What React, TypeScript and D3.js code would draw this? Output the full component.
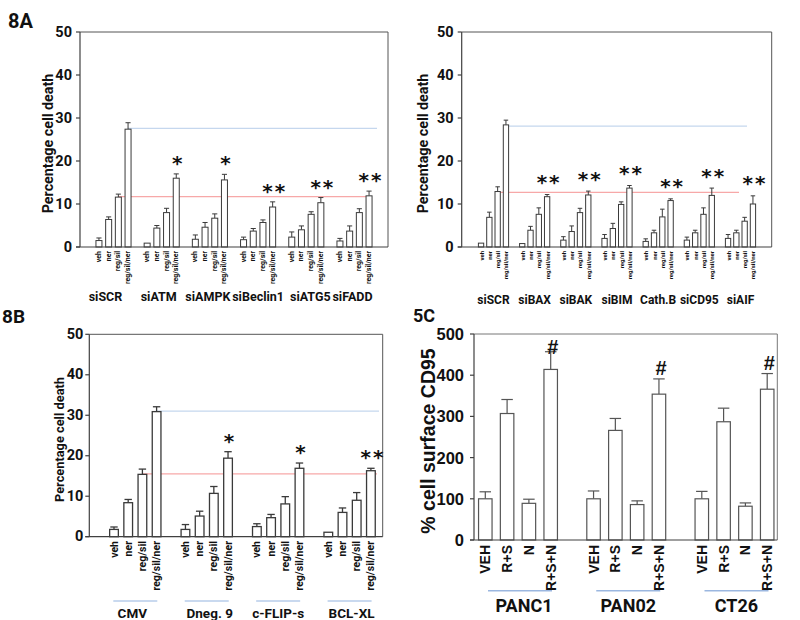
import React from "react";
import * as d3 from "d3";

// ---------- DATA ----------
const treat8 = ["veh", "ner", "reg/sil", "reg/sil/ner"];

const groupsA1 = ["siSCR", "siATM", "siAMPK", "siBeclin1", "siATG5", "siFADD"];
const meanA1 = [
  [1.5, 6.4, 11.6, 27.4],
  [0.9, 4.4, 8.0, 16.0],
  [1.8, 4.6, 6.7, 15.6],
  [1.7, 3.7, 5.7, 9.3],
  [2.3, 4.0, 7.6, 10.3],
  [1.4, 3.7, 8.0, 11.9],
];
const errA1 = [
  [0.6, 0.6, 0.7, 1.5],
  [0, 0.6, 1.0, 1.0],
  [1.0, 1.1, 1.0, 1.3],
  [0.6, 0.6, 0.6, 1.2],
  [1.2, 0.9, 0.6, 1.2],
  [0.6, 1.2, 0.9, 1.1],
];
const sigA1 = ["", "*", "*", "**", "**", "**"];
const refA1 = [27.6, 11.7];

const groupsA2 = ["siSCR", "siBAX", "siBAK", "siBIM", "Cath.B", "siCD95", "siAIF"];
const meanA2 = [
  [0.9, 6.9, 12.9, 28.4],
  [0.8, 3.9, 7.6, 11.7],
  [1.6, 3.6, 8.0, 12.1],
  [2.0, 4.3, 9.9, 13.7],
  [1.3, 3.3, 7.0, 10.8],
  [1.6, 3.3, 7.6, 12.0],
  [2.0, 3.3, 6.0, 10.0],
];
const errA2 = [
  [0, 1.2, 1.1, 1.1],
  [0, 0.9, 1.5, 0.5],
  [0.8, 1.3, 1.0, 0.9],
  [0.9, 1.2, 0.6, 0.6],
  [0.6, 0.6, 1.8, 0.4],
  [0.7, 0.6, 1.5, 1.7],
  [0.9, 0.6, 0.9, 1.9],
];
const sigA2 = ["", "**", "**", "**", "**", "**", "**"];
const refA2 = [28.1, 12.7];

const groupsB = ["CMV", "Dneg. 9", "c-FLIP-s", "BCL-XL"];
const meanB = [
  [1.8, 8.4, 15.4, 30.9],
  [1.8, 5.1, 10.7, 19.4],
  [2.5, 4.7, 8.1, 16.9],
  [1.1, 6.0, 9.0, 16.3],
];
const errB = [
  [0.6, 0.8, 1.3, 1.2],
  [1.2, 1.2, 1.7, 1.6],
  [0.7, 0.8, 1.8, 1.3],
  [0, 1.1, 1.9, 0.6],
];
const sigB = ["", "*", "*", "**"];
const refB = [31.0, 15.5];

const groupsC = ["PANC1", "PAN02", "CT26"];
const treatC = ["VEH", "R+S", "N", "R+S+N"];
const meanC = [
  [100, 307, 89, 414],
  [100, 266, 86, 354],
  [100, 287, 82, 366],
];
const errC = [
  [17, 34, 10, 43],
  [19, 29, 9, 37],
  [18, 33, 8, 38],
];
const sigC = ["#", "#", "#"];

const yTicks8 = [0, 10, 20, 30, 40, 50];
const yTicksC = [0, 100, 200, 300, 400, 500];

// ---------- STYLE ----------
const CAL = "Roboto, 'Open Sans', sans-serif";
const ARL = "'Liberation Sans', Arial, sans-serif";
const BLUE_REF = "#c5d7ee";
const RED_REF = "#f7a8a8";
const UNDER = "#b7cdea";

type Cfg = {
  id: string;
  x0: number; x1: number; top: number; bottom: number;
  yMax: number; yTicks: number[];
  groups: string[]; treats: string[];
  mean: number[][]; err: number[][]; sig: string[];
  refs?: number[]; refEnds?: number[];
  centers: [number, number]; barStep: number; barW: number;
  barStroke: string; barSW: number;
  tickFont: string; tickSize: number; tickY: number;
  gFont: string; gSize: number; gY: number; gDx?: number[];
  under?: { y: number; a: number; b: number; color: string };
  yLab: string; yLabX: number; yLabFont: string; yLabSize: number;
  yTickFont: string; yTickSize: number; yTickGap: number;
  sigFont: string; sigSize: number; sigOff: number; sigSpacing: number;
  panel: string; panelX: number; panelY: number; panelSize: number;
  frame: string;
};

function Panel({ c }: { c: Cfg }) {
  const y = d3.scaleLinear().domain([0, c.yMax]).range([c.bottom, c.top]);
  const gx = d3.scalePoint<string>().domain(c.groups).range(c.centers);
  const half = (c.barStep * c.treats.length) / 2;
  const pIn = 1 - c.barW / c.barStep;
  const bx = d3
    .scaleBand<string>()
    .domain(c.treats)
    .range([-half, half])
    .paddingInner(pIn)
    .paddingOuter(pIn / 2);
  const bw = bx.bandwidth();
  const cx = (g: string, t: string) => (gx(g) as number) + (bx(t) as number) + bw / 2;
  const cap = bw * 0.85;
  const last = c.treats[c.treats.length - 1];
  const third = c.treats[c.treats.length - 2];

  return (
    <g>
      <text x={c.panelX} y={c.panelY} fontFamily={CAL} fontWeight={700} fontSize={c.panelSize} fill="#111">
        {c.panel}
      </text>
      <line x1={c.x0} x2={c.x1} y1={c.top} y2={c.top} stroke={c.frame} strokeWidth={1} />
      <line x1={c.x1} x2={c.x1} y1={c.top} y2={c.bottom} stroke={c.frame} strokeWidth={1} />
      {c.refs && c.refEnds && (
        <g>
          <line
            x1={cx(c.groups[0], last)} x2={c.refEnds[0]}
            y1={y(c.refs[0])} y2={y(c.refs[0])}
            stroke={BLUE_REF} strokeWidth={1.3}
          />
          <line
            x1={cx(c.groups[0], third)} x2={c.refEnds[1]}
            y1={y(c.refs[1])} y2={y(c.refs[1])}
            stroke={RED_REF} strokeWidth={1.3}
          />
        </g>
      )}
      {c.groups.map((g, gi) =>
        c.treats.map((t, ti) => {
          const v = c.mean[gi][ti];
          const e = c.err[gi][ti];
          const x = cx(g, t);
          return (
            <g key={g + t}>
              {e > 0 && (
                <g stroke={c.barStroke} strokeWidth={c.barSW}>
                  <line x1={x} x2={x} y1={y(v)} y2={y(v + e)} />
                  <line x1={x - cap / 2} x2={x + cap / 2} y1={y(v + e)} y2={y(v + e)} />
                </g>
              )}
              <rect
                x={x - bw / 2} y={y(v)} width={bw} height={y(0) - y(v)}
                fill="#fff" stroke={c.barStroke} strokeWidth={c.barSW}
              />
            </g>
          );
        })
      )}
      {c.groups.map((g, gi) =>
        c.sig[gi] ? (
          <text
            key={"s" + g}
            x={cx(g, last) + 2}
            y={Math.max(y(c.mean[gi][3] + c.err[gi][3]) - c.sigOff, c.top + 13)}
            textAnchor="middle" dominantBaseline="central"
            fontFamily={c.sigFont} fontWeight={700} fontSize={c.sigSize}
            letterSpacing={c.sigSpacing} fill="#111"
          >
            {c.sig[gi]}
          </text>
        ) : null
      )}
      <line x1={c.x0} x2={c.x0} y1={c.top} y2={c.bottom} stroke="#404040" strokeWidth={1.2} />
      <line x1={c.x0 - 4} x2={c.x1} y1={c.bottom} y2={c.bottom} stroke="#404040" strokeWidth={1.2} />
      {c.yTicks.map((t) => (
        <g key={"yt" + t}>
          <line x1={c.x0 - 4} x2={c.x0} y1={y(t)} y2={y(t)} stroke="#404040" strokeWidth={1.2} />
          <text
            x={c.x0 - c.yTickGap} y={y(t)} textAnchor="end" dominantBaseline="central"
            fontFamily={c.yTickFont} fontWeight={700} fontSize={c.yTickSize} fill="#111"
          >
            {t}
          </text>
        </g>
      ))}
      <text
        transform={`translate(${c.yLabX},${(c.top + c.bottom) / 2 + 4}) rotate(-90)`}
        textAnchor="middle" dominantBaseline="central"
        fontFamily={c.yLabFont} fontWeight={700} fontSize={c.yLabSize} fill="#111"
      >
        {c.yLab}
      </text>
      {c.groups.map((g) =>
        c.treats.map((t) => (
          <text
            key={"xt" + g + t}
            transform={`translate(${cx(g, t)},${c.tickY}) rotate(-90)`}
            textAnchor="end" dominantBaseline="central"
            fontFamily={c.tickFont} fontWeight={700} fontSize={c.tickSize} fill="#111"
          >
            {t}
          </text>
        ))
      )}
      {c.groups.map((g, gi) => (
        <g key={"g" + g}>
          {c.under && (
            <line
              x1={(gx(g) as number) + c.under.a} x2={(gx(g) as number) + c.under.b}
              y1={c.under.y} y2={c.under.y} stroke={c.under.color} strokeWidth={1.5}
            />
          )}
          <text
            x={(gx(g) as number) + (c.gDx ? c.gDx[gi] : 0)} y={c.gY}
            textAnchor="middle" fontFamily={c.gFont} fontWeight={700} fontSize={c.gSize} fill="#111"
          >
            {g}
          </text>
        </g>
      ))}
    </g>
  );
}

const common8 = {
  yMax: 50, yTicks: yTicks8, treats: treat8,
  barStroke: "#3a3a3a",
  tickFont: CAL, gFont: CAL, yLab: "Percentage cell death", yLabFont: CAL,
  yTickFont: CAL, yTickSize: 14.5, sigFont: "'DejaVu Sans', sans-serif",
  frame: "#555",
};

const cfgA1: Cfg = {
  ...common8, id: "a1",
  x0: 80, x1: 388, top: 32, bottom: 247,
  groups: groupsA1, mean: meanA1, err: errA1, sig: sigA1,
  refs: refA1, refEnds: [377, 372],
  centers: [113.5, 354.5], barStep: 9.7, barW: 6, barSW: 1,
  tickSize: 7, tickY: 251, gSize: 12.5, gY: 301, gDx: [-8, -3, -2, 0, 4, -2],
  yLabX: 48, yLabSize: 14.3, yTickGap: 8,
  sigSize: 20, sigOff: 11, sigSpacing: 2,
  panel: "8A", panelX: 8, panelY: 28, panelSize: 20,
};

const cfgA2: Cfg = {
  ...common8, id: "a2",
  x0: 461.7, x1: 771.7, top: 32, bottom: 247,
  groups: groupsA2, mean: meanA2, err: errA2, sig: sigA2,
  refs: refA2, refEnds: [747, 739],
  centers: [493.5, 740.5], barStep: 8.3, barW: 5.3, barSW: 1,
  tickSize: 6, tickY: 251, gSize: 12, gY: 304,
  yLabX: 423, yLabSize: 14.3, yTickGap: 8,
  sigSize: 20, sigOff: 12.5, sigSpacing: 2,
  panel: "", panelX: 0, panelY: 0, panelSize: 20,
};

const cfgB: Cfg = {
  ...common8, id: "b",
  x0: 89.3, x1: 382.7, top: 334.3, bottom: 536.7,
  groups: groupsB, mean: meanB, err: errB, sig: sigB,
  refs: refB, refEnds: [379, 377],
  centers: [135.3, 349.6], barStep: 14.2, barW: 8.7, barSW: 1.3,
  tickSize: 10.5, tickY: 541, gSize: 13.5, gY: 618, gDx: [-3, 3, 0, 2],
  under: { y: 601, a: -22, b: 22, color: UNDER },
  yLabX: 59, yLabSize: 12.8, yTickGap: 6,
  sigSize: 20, sigOff: 11, sigSpacing: 2,
  panel: "8B", panelX: 2, panelY: 323, panelSize: 19,
};

const cfgC: Cfg = {
  id: "c",
  x0: 474, x1: 777.3, top: 334, bottom: 540,
  yMax: 500, yTicks: yTicksC,
  groups: groupsC, treats: treatC, mean: meanC, err: errC, sig: sigC,
  centers: [518, 734.5], barStep: 21.8, barW: 13.5,
  barStroke: "#555", barSW: 1.2,
  tickFont: ARL, tickSize: 14, tickY: 545,
  gFont: CAL, gSize: 18, gY: 612, gDx: [6, 2, 2],
  under: { y: 590.7, a: -30, b: 34, color: "#9bb7e0" },
  yLab: "% cell surface CD95", yLabX: 428, yLabFont: ARL, yLabSize: 19.5,
  yTickFont: ARL, yTickSize: 16.5, yTickGap: 10,
  sigFont: ARL, sigSize: 20, sigOff: 11, sigSpacing: 0,
  panel: "5C", panelX: 413, panelY: 322, panelSize: 18,
  frame: "#777",
};

export default function App() {
  return (
    <svg
      width={800}
      height={620}
      viewBox="0 0 800 620"
      style={{ position: "absolute", left: 0, top: 0, background: "#fff" }}
    >
      <rect width={800} height={620} fill="#fff" />
      <Panel c={cfgA1} />
      <Panel c={cfgA2} />
      <Panel c={cfgB} />
      <Panel c={cfgC} />
    </svg>
  );
}
